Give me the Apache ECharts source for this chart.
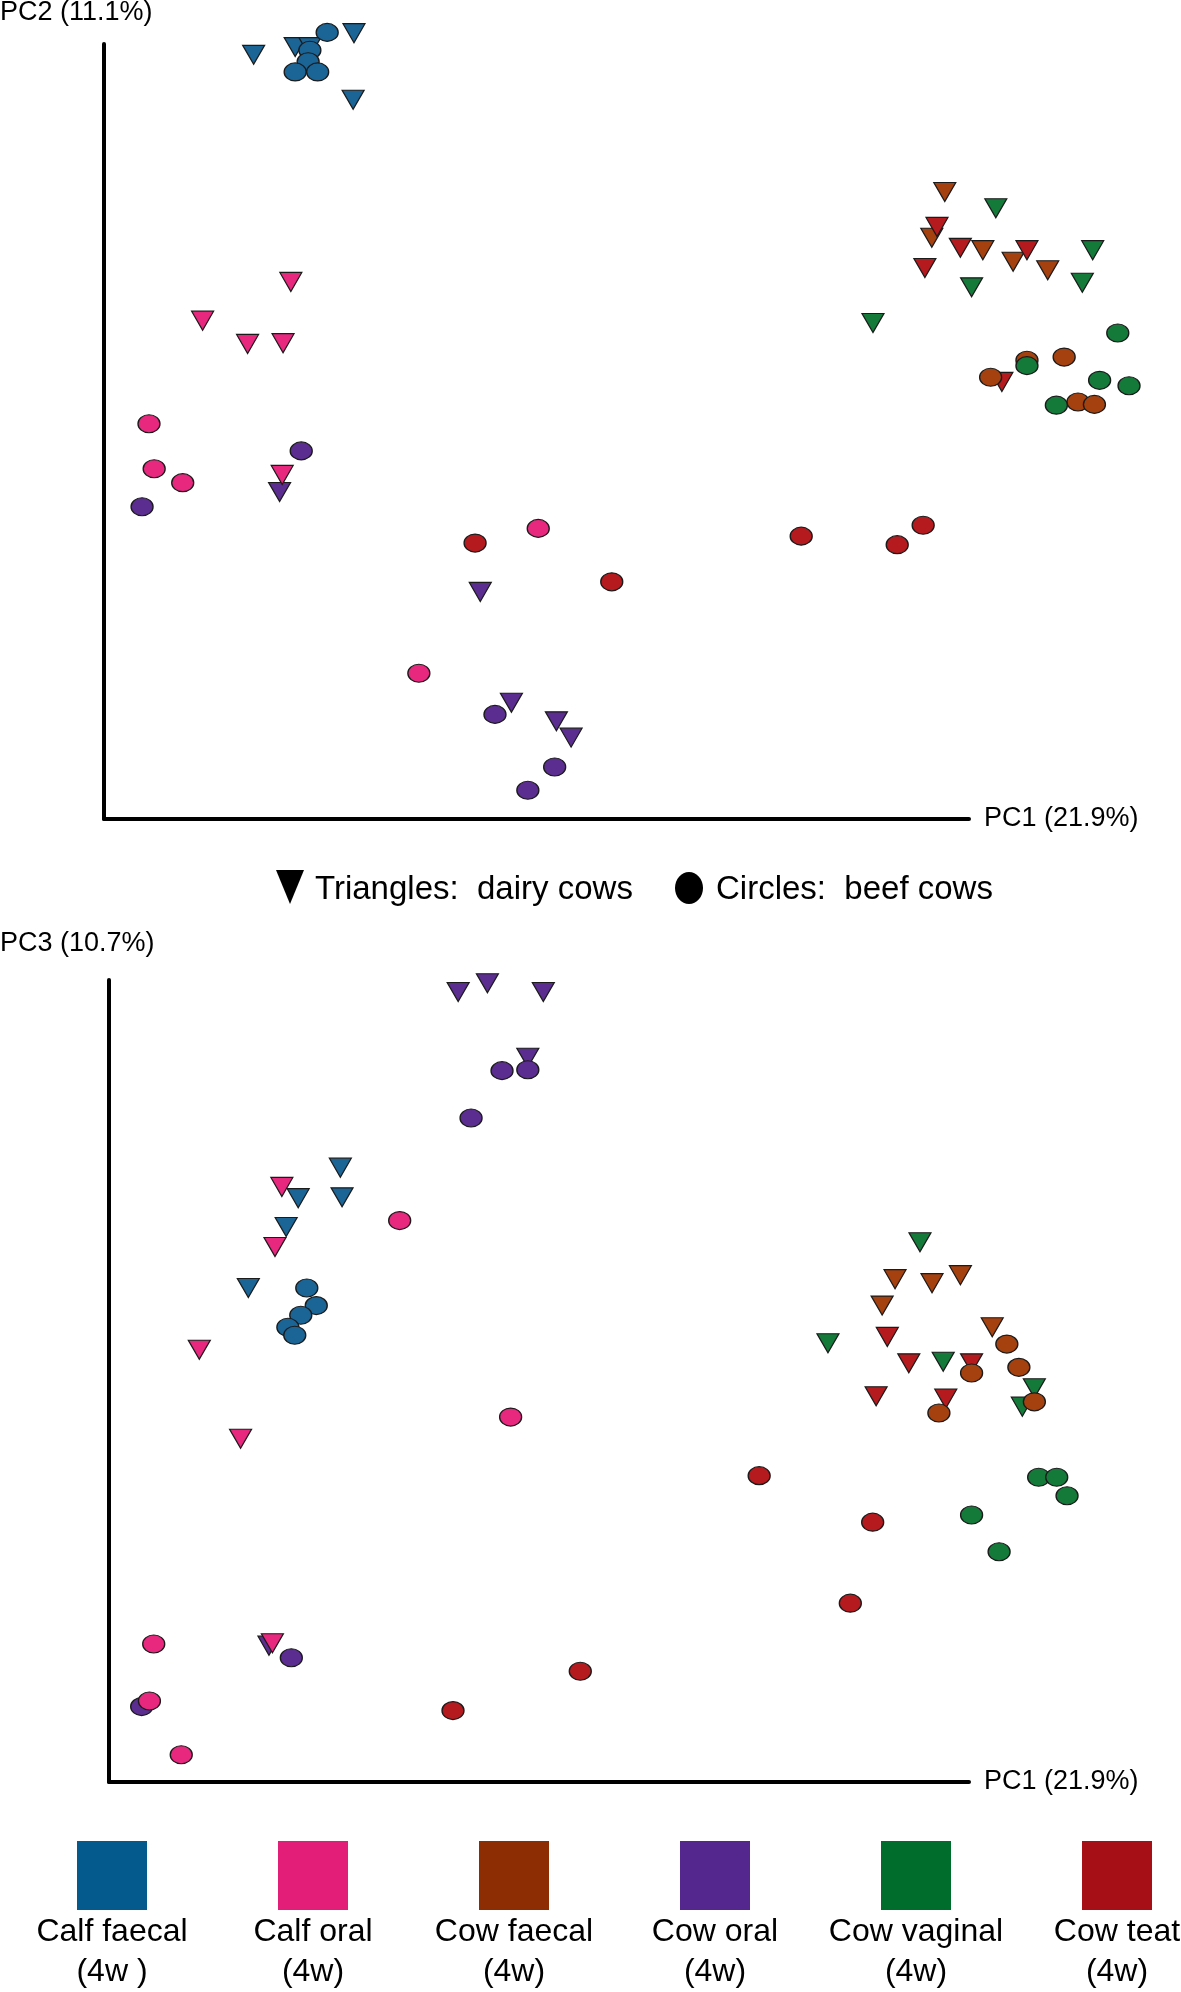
<!DOCTYPE html>
<html lang="en">
<head>
    <meta charset="UTF-8">
    <title>PCoA - calf and cow samples</title>
    <script src="https://cdn.jsdelivr.net/npm/echarts@6/dist/echarts.min.js"></script>
    <style>
        body { margin: 0; background: #ffffff; }
        #main { width: 1181px; height: 1992px; }
    </style>
</head>
<body>
    <div id="main"></div>

    <script>
        // sample groups, in legend order
        var groups = ['Calf faecal', 'Calf oral', 'Cow faecal', 'Cow oral', 'Cow vaginal', 'Cow teat'];
        var groupSub = ['(4w )', '(4w)', '(4w)', '(4w)', '(4w)', '(4w)'];
        var legendColors = ['#045a8d', '#e31e79', '#8c2d04', '#54278f', '#006d2c', '#a50f15'];
        var markColors = ['#1a6496', '#e8277f', '#a4410f', '#5c2d91', '#147a3a', '#b51a1f'];
        // drawing order of the groups (later = on top)
        var drawOrder = [3, 0, 1, 2, 4, 5];

        // PC1 vs PC2 (axis units 0-100 along the drawn axis lines), one list per group
        var pc12Triangles = [
            [[17.3, 98.6], [22.1, 99.6], [23.8, 99.6], [28.9, 101.4], [28.8, 92.8]],
            [[21.6, 69.3], [11.4, 64.3], [16.6, 61.3], [20.7, 61.4], [20.6, 44.4]],
            [[97.2, 80.9], [95.7, 75.0], [101.6, 73.4], [105.1, 71.9], [109.1, 70.8]],
            [[20.3, 42.2], [43.5, 29.3], [47.1, 15.0], [52.3, 12.6], [54.0, 10.5]],
            [[103.1, 78.8], [114.3, 73.4], [100.3, 68.6], [113.1, 69.2], [88.9, 64.0]],
            [[96.3, 76.4], [99.0, 73.7], [106.7, 73.4], [94.9, 71.1], [103.8, 56.4]]
        ];
        var pc12Circles = [
            [[25.8, 101.5], [23.8, 99.2], [23.6, 97.7], [22.1, 96.4], [24.7, 96.4]],
            [[5.2, 51.0], [5.8, 45.2], [9.1, 43.4], [50.2, 37.5], [36.4, 18.8]],
            [[111.0, 59.6], [106.7, 59.2], [102.5, 57.0], [112.6, 53.8], [114.5, 53.5]],
            [[22.8, 47.5], [4.4, 40.3], [45.2, 13.5], [52.1, 6.7], [49.0, 3.7]],
            [[117.2, 62.7], [106.7, 58.5], [115.1, 56.6], [118.5, 55.9], [110.1, 53.4]],
            [[42.9, 35.6], [58.7, 30.6], [80.6, 36.5], [91.7, 35.4], [94.7, 37.9]]
        ];

        // PC1 vs PC3
        var pc13Triangles = [
            [[26.9, 76.6], [22.0, 72.8], [27.1, 72.9], [20.6, 69.2], [16.2, 61.6]],
            [[20.1, 74.2], [19.3, 66.7], [10.5, 53.9], [15.3, 42.8], [19.0, 17.3]],
            [[91.4, 62.7], [95.7, 62.2], [99.0, 63.2], [89.9, 59.4], [102.7, 56.7]],
            [[40.6, 98.5], [44.0, 99.6], [50.5, 98.5], [48.7, 90.3], [18.6, 17.0]],
            [[94.3, 67.3], [83.6, 54.7], [97.0, 52.4], [107.6, 49.1], [106.2, 46.8]],
            [[90.5, 55.5], [93.0, 52.2], [100.3, 52.2], [89.2, 48.1], [97.3, 47.8]]
        ];
        var pc13Circles = [
            [[23.0, 61.6], [24.1, 59.4], [22.3, 58.2], [20.8, 56.7], [21.6, 55.7]],
            [[33.8, 70.0], [46.7, 45.5], [5.2, 17.2], [4.7, 10.1], [8.4, 3.4]],
            [[100.3, 51.0], [104.4, 54.6], [105.8, 51.7], [107.6, 47.4], [96.5, 46.0]],
            [[45.7, 88.7], [48.7, 88.8], [42.1, 82.8], [21.2, 15.5], [3.8, 9.4]],
            [[108.1, 38.0], [110.2, 38.0], [111.4, 35.7], [100.3, 33.3], [103.5, 28.7]],
            [[40.0, 8.9], [54.8, 13.8], [75.6, 38.2], [88.8, 32.4], [86.2, 22.3]]
        ];

        var FONT = '"Liberation Sans", Arial, sans-serif';
        var chart = echarts.init(document.getElementById('main'));

        function axisPair(gridIndex) {
            var line = { show: true, onZero: false, lineStyle: { color: '#000', width: 4 } };
            return {
                x: {
                    type: 'value', gridIndex: gridIndex, min: 0, max: 100,
                    axisLine: line, axisTick: { show: false }, axisLabel: { show: false },
                    splitLine: { show: false },
                    name: 'PC1 (21.9%)', nameLocation: 'end', nameGap: 15,
                    nameTextStyle: { fontFamily: FONT, fontSize: 27, color: '#000' }
                },
                y: {
                    type: 'value', gridIndex: gridIndex, min: 0, max: 100,
                    axisLine: line, axisTick: { show: false }, axisLabel: { show: false },
                    splitLine: { show: false }
                }
            };
        }

        var a0 = axisPair(0), a1 = axisPair(1);

        // triangles first, then circles, groups in drawOrder
        var series = [];
        [[pc12Triangles, pc12Circles], [pc13Triangles, pc13Circles]].forEach(function (sets, k) {
            [0, 1].forEach(function (shape) {
                drawOrder.forEach(function (i) {
                    var s = {
                        type: 'scatter', name: groups[i], xAxisIndex: k, yAxisIndex: k,
                        clip: false, silent: true,
                        data: sets[shape][i],
                        itemStyle: { color: markColors[i], borderColor: '#1b1b1b', borderWidth: 1.2, opacity: 1 }
                    };
                    if (shape === 0) {
                        s.symbol = 'triangle';
                        s.symbolRotate = 180;
                        s.symbolSize = [22, 19];
                    } else {
                        s.symbol = 'circle';
                        s.symbolSize = [22, 18];
                    }
                    series.push(s);
                });
            });
        });

        // legend: shape key and colour key
        var graphics = [
            { type: 'text', style: { text: 'PC2 (11.1%)', x: 0, y: 13, font: '27px ' + FONT, fill: '#000', textAlign: 'left', textVerticalAlign: 'middle' } },
            { type: 'text', style: { text: 'PC3 (10.7%)', x: 0, y: 944, font: '27px ' + FONT, fill: '#000', textAlign: 'left', textVerticalAlign: 'middle' } },
            { type: 'polygon', shape: { points: [[276, 870], [304, 870], [290, 904]] }, style: { fill: '#000' } },
            { type: 'text', style: { text: 'Triangles:  dairy cows', x: 315, y: 890, font: '33px ' + FONT, fill: '#000', textAlign: 'left', textVerticalAlign: 'middle' } },
            { type: 'ellipse', shape: { cx: 689, cy: 888, rx: 14, ry: 16 }, style: { fill: '#000' } },
            { type: 'text', style: { text: 'Circles:  beef cows', x: 716, y: 890, font: '33px ' + FONT, fill: '#000', textAlign: 'left', textVerticalAlign: 'middle' } }
        ];
        var legendX = [77, 278, 479, 680, 881, 1082];
        groups.forEach(function (name, i) {
            var cx = legendX[i] + 35;
            graphics.push({ type: 'rect', shape: { x: legendX[i], y: 1841, width: 70, height: 69 }, style: { fill: legendColors[i] } });
            graphics.push({ type: 'text', style: { text: name, x: cx, y: 1932, font: '32px ' + FONT, fill: '#000', textAlign: 'center', textVerticalAlign: 'middle' } });
            graphics.push({ type: 'text', style: { text: groupSub[i], x: cx, y: 1972, font: '32px ' + FONT, fill: '#000', textAlign: 'center', textVerticalAlign: 'middle' } });
        });

        chart.setOption({
            animation: false,
            backgroundColor: '#ffffff',
            grid: [
                { left: 104, top: 44, width: 865, height: 775 },
                { left: 109, top: 980, width: 860, height: 802 }
            ],
            xAxis: [a0.x, a1.x],
            yAxis: [a0.y, a1.y],
            series: series,
            graphic: graphics
        });
    </script>
</body>
</html>
